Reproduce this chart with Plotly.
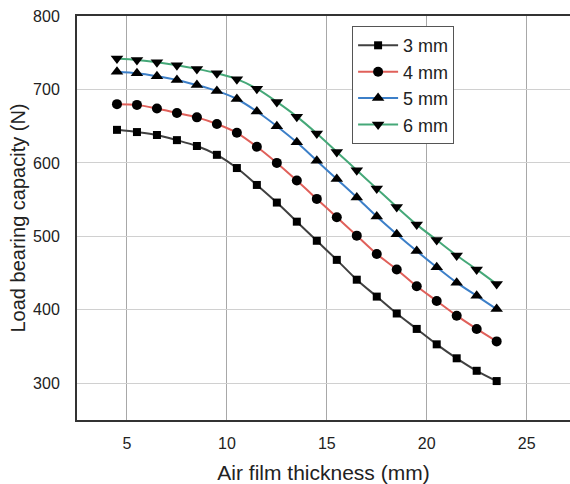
import plotly.graph_objects as go

# Air film thickness (mm)
thickness = [4.5, 5.5, 6.5, 7.5, 8.5, 9.5, 10.5, 11.5, 12.5, 13.5,
             14.5, 15.5, 16.5, 17.5, 18.5, 19.5, 20.5, 21.5, 22.5, 23.5]

# Load bearing capacity (N) for each groove depth
load_3mm = [645, 642, 638, 631, 623, 611, 593, 570, 546, 520,
            494, 468, 441, 418, 395, 374, 353, 334, 317, 303]
load_4mm = [680, 679, 674, 668, 662, 653, 641, 622, 600, 576,
            551, 526, 501, 476, 455, 432, 412, 392, 374, 357]
load_5mm = [724, 722, 718, 713, 706, 698, 687, 670, 650, 628,
            603, 578, 553, 527, 503, 480, 458, 437, 419, 401]
load_6mm = [742, 740, 737, 733, 728, 722, 714, 701, 683, 663,
            640, 615, 590, 565, 540, 516, 495, 474, 455, 435]

series_names = ["3 mm", "4 mm", "5 mm", "6 mm"]
line_colors = ["#404040", "#e0605a", "#3c7fc8", "#45a878"]
marker_symbols = ["square", "circle", "triangle-up", "triangle-down"]
marker_sizes = [8, 10, 11, 11]

y_ticks = [300, 400, 500, 600, 700, 800]
x_ticks = [5, 10, 15, 20, 25]

fig = go.Figure()
for name, ys, color, sym, msize in zip(series_names,
                                       [load_3mm, load_4mm, load_5mm, load_6mm],
                                       line_colors, marker_symbols, marker_sizes):
    fig.add_trace(go.Scatter(
        x=thickness, y=ys, name=name, mode="lines+markers",
        line=dict(color=color, width=2, shape="spline", smoothing=0.8),
        marker=dict(symbol=sym, size=msize, color="black"),
    ))

font_family = "Liberation Sans, Arial, sans-serif"

fig.update_layout(
    width=570, height=484,
    margin=dict(l=77, r=0, t=16, b=64),
    paper_bgcolor="white", plot_bgcolor="white",
    font=dict(family=font_family, color="#222222"),
    showlegend=True,
    legend=dict(
        x=0.558, y=0.975, xanchor="left", yanchor="top",
        bgcolor="white", bordercolor="#555555", borderwidth=1,
        font=dict(size=18, family=font_family, color="#222222"),
        itemwidth=40, tracegroupgap=0,
    ),
    xaxis=dict(
        range=[2.5, 27.17], tickvals=x_ticks,
        showgrid=True, gridcolor="#a8a8a8", gridwidth=1,
        showline=True, linecolor="#333333", linewidth=2, mirror=True,
        ticks="outside", ticklen=8, tickcolor="rgba(0,0,0,0)",
        tickfont=dict(size=16),
        title=dict(text="Air film thickness (mm)", font=dict(size=21), standoff=14),
        zeroline=False,
    ),
    yaxis=dict(
        range=[250, 800], tickvals=y_ticks,
        showgrid=True, gridcolor="#d0d0d0", gridwidth=1,
        showline=True, linecolor="#333333", linewidth=2,
        ticks="outside", ticklen=12, tickcolor="rgba(0,0,0,0)",
        tickfont=dict(size=16),
        title=dict(text="Load bearing capacity (N)", font=dict(size=20), standoff=2),
        zeroline=False,
    ),
)

fig.write_html("out.html")
